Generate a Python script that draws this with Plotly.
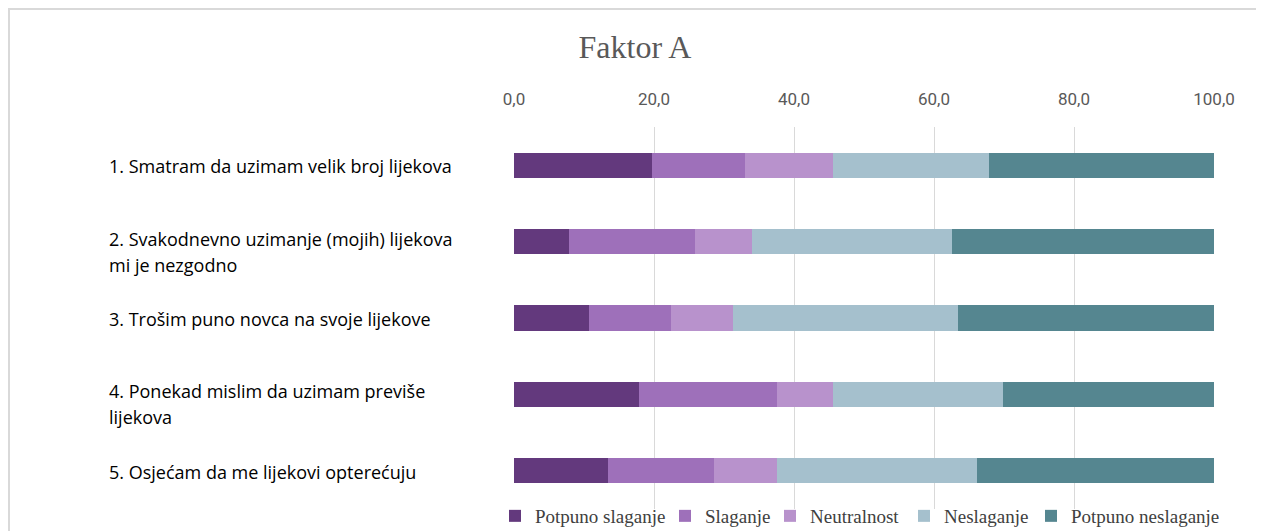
import plotly.graph_objects as go

categories = [
    "1. Smatram da uzimam velik broj lijekova",
    "2. Svakodnevno uzimanje (mojih) lijekova<br>mi je nezgodno",
    "3. Trošim puno novca na svoje lijekove",
    "4. Ponekad mislim da uzimam previše<br>lijekova",
    "5. Osjećam da me lijekovi opterećuju",
]
series_names = ["Potpuno slaganje", "Slaganje", "Neutralnost", "Neslaganje", "Potpuno neslaganje"]
potpuno_slaganje = [19.7, 7.9, 10.7, 17.9, 13.4]
slaganje = [13.3, 17.9, 11.7, 19.6, 15.1]
neutralnost = [12.5, 8.2, 8.9, 8.0, 9.0]
neslaganje = [22.3, 28.6, 32.1, 24.3, 28.6]
potpuno_neslaganje = [32.2, 37.4, 36.6, 30.2, 33.9]
tick_vals = [0, 20, 40, 60, 80, 100]
tick_text = ["0,0", "20,0", "40,0", "60,0", "80,0", "100,0"]

colors = ["#63397d", "#9e70ba", "#b892cc", "#a5c0cd", "#558690"]
legend_widths = [125, 60, 89, 82, 150]
values = [potpuno_slaganje, slaganje, neutralnost, neslaganje, potpuno_neslaganje]

fig = go.Figure()
for name, vals, col, lw in zip(series_names, values, colors, legend_widths):
    fig.add_trace(go.Bar(
        y=categories, x=vals, name=name, orientation="h",
        marker=dict(color=col, line=dict(width=0)),
        legendwidth=lw,
    ))

W, H = 1264, 531
L, R, T, B = 506, 58, 119, 30
pw, ph = W - L - R, H - T - B

fig.update_layout(
    width=W, height=H,
    barmode="stack", bargap=0.67,
    margin=dict(l=L, r=R, t=T, b=B, autoexpand=False),
    paper_bgcolor="white", plot_bgcolor="white",
    title=dict(text="Faktor A", x=627 / W, xref="container", xanchor="center",
               y=1 - 39 / H, yref="container", yanchor="middle",
               font=dict(family="Liberation Serif, Times New Roman, serif", size=32, color="#595959")),
    showlegend=True,
    legend=dict(orientation="h", xref="paper", x=(487 - L) / pw, xanchor="left",
                yref="paper", y=(H - B - 508) / ph, yanchor="middle",
                font=dict(family="Liberation Serif, Times New Roman, serif", size=19, color="#404040"),
                itemwidth=30, traceorder="normal", bgcolor="rgba(0,0,0,0)"),
    xaxis=dict(side="top", range=[0, 100], tickvals=tick_vals, ticktext=tick_text,
               showgrid=True, gridcolor="#d9d9d9", gridwidth=1, zeroline=False,
               ticks="outside", ticklen=14, tickcolor="rgba(0,0,0,0)",
               tickfont=dict(family="Liberation Sans Narrow, Roboto, sans-serif", size=17, color="#595959"),
               showline=False, fixedrange=True),
    yaxis=dict(autorange="reversed", showticklabels=False, showgrid=False, zeroline=False,
               showline=False, ticks=""),
)

# left-aligned category labels
label_x = (99 - L) / pw
annotations = []
for cat in categories:
    lines = cat.split("<br>")
    for i, line in enumerate(lines):
        annotations.append(dict(
            x=label_x, xref="paper", y=cat, yref="y", text=line, showarrow=False,
            xanchor="left", yanchor="middle", yshift=-26 * i + (3 if len(lines) > 1 else -1),
            font=dict(family="Open Sans, Noto Sans, sans-serif", size=18, color="#000000"),
        ))
fig.update_layout(annotations=annotations)

# chart border
fig.add_shape(type="rect", xref="paper", yref="paper",
              x0=(1 - L) / pw, x1=(1250 - L) / pw,
              y0=-0.3, y1=(H - B - 1) / ph,
              line=dict(color="#d9d9d9", width=2), fillcolor="rgba(0,0,0,0)", layer="below")

fig.write_html("out.html")
